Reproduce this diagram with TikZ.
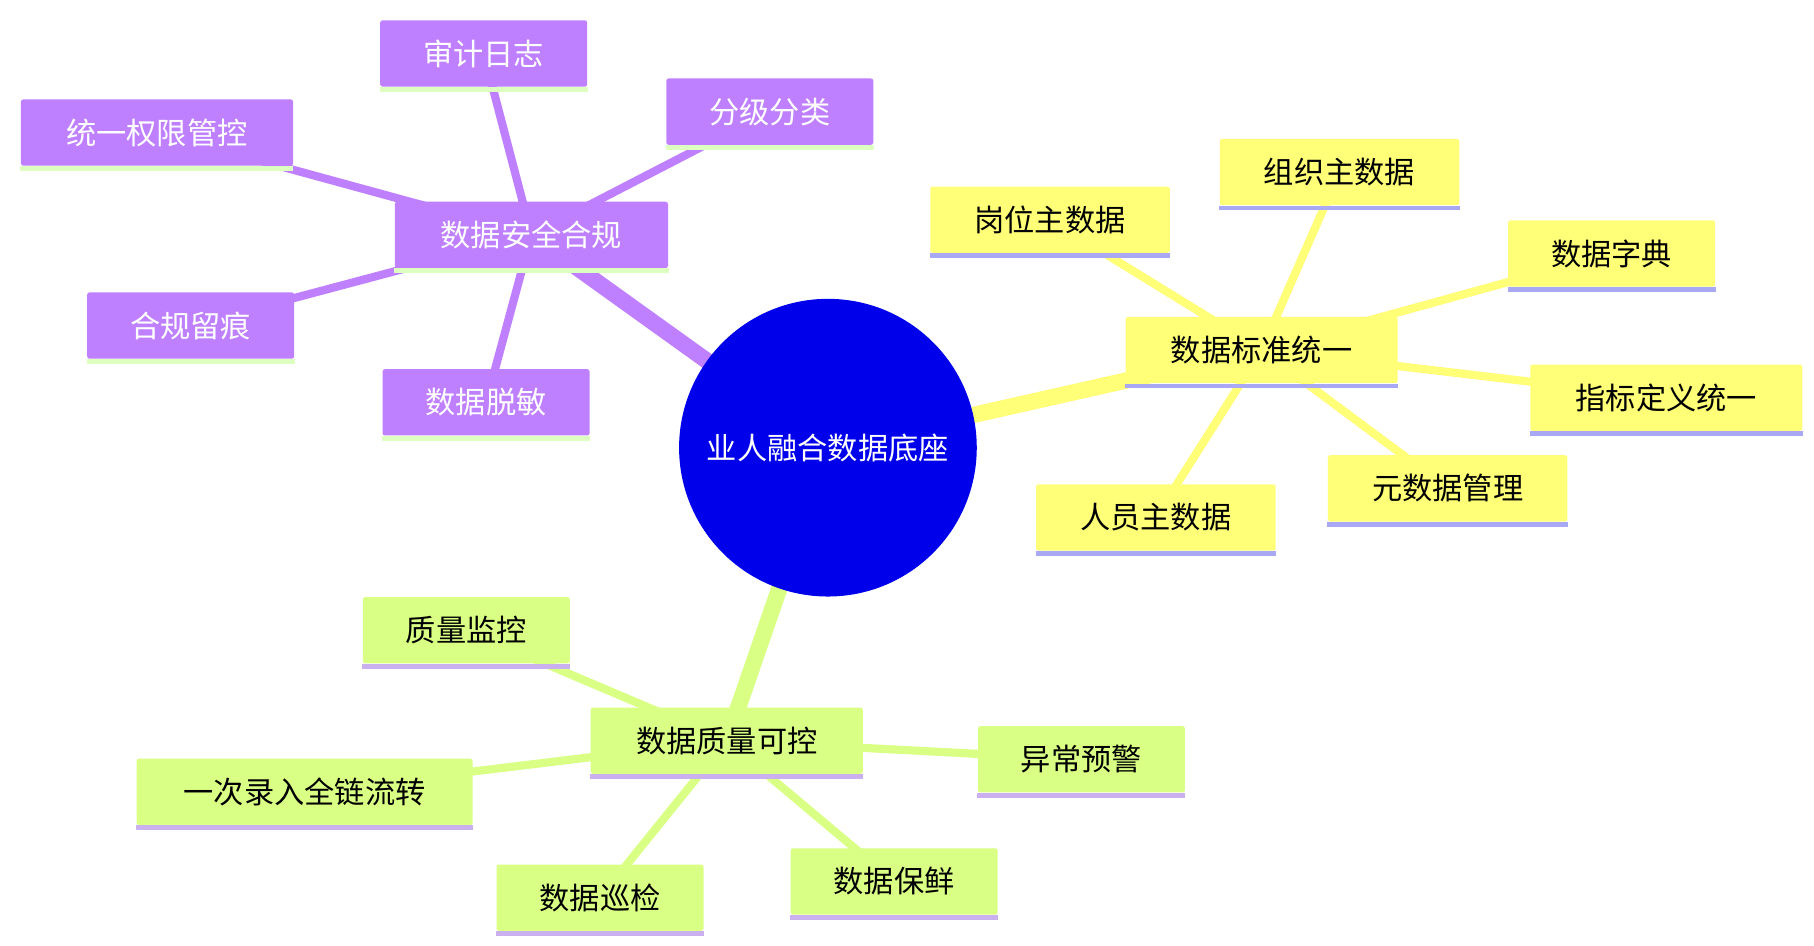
\documentclass[tikz,border=0pt]{standalone}
\usepackage{fontspec}
\setmainfont{Noto Sans CJK SC}
\definecolor{pur}{HTML}{BF80FF}
\definecolor{yel}{HTML}{FFFF78}
\definecolor{grn}{HTML}{D9FF85}
\definecolor{pline}{HTML}{DDFFC0}
\definecolor{yline}{HTML}{A8A8F5}
\definecolor{gline}{HTML}{CBB0F0}
\definecolor{cblue}{HTML}{0000EA}
\tikzset{
 box/.style={minimum height=28.5pt,inner sep=0pt,font=\fontsize{13}{13}\selectfont},
 pbox/.style={box,fill=pur,text=white,rounded corners=1pt},
 ybox/.style={box,fill=yel,text=black,rounded corners=1pt},
 gbox/.style={box,fill=grn,text=black,rounded corners=1pt},
 thick1/.style={line width=7pt},
 thin1/.style={line width=3.5pt},
}
\begin{document}
\begin{tikzpicture}[x=0.5pt,y=-0.5pt]
\useasboundingbox[fill=white] (0,0) rectangle (1560,813);
% coordinates
\coordinate (c) at (712,385);
\coordinate (P) at (457,202);\coordinate (p1) at (416,46);\coordinate (p2) at (662,96);
\coordinate (p3) at (135,114);\coordinate (p4) at (164,280);\coordinate (p5) at (418,346);
\coordinate (Y) at (1085,301);\coordinate (y1) at (903,189);\coordinate (y2) at (1152,148);
\coordinate (y3) at (1386,218);\coordinate (y4) at (1433,342);\coordinate (y5) at (1245,420);\coordinate (y6) at (994,445);
\coordinate (G) at (625,637);\coordinate (g1) at (401,542);\coordinate (g2) at (262,681);
\coordinate (g3) at (930,653);\coordinate (g4) at (769,758);\coordinate (g5) at (516,772);
% edges
\foreach \a in {p1,p2,p3,p4,p5} \draw[pur,thin1] (P)--(\a);
\foreach \a in {y1,y2,y3,y4,y5,y6} \draw[yel,thin1] (Y)--(\a);
\foreach \a in {g1,g2,g3,g4,g5} \draw[grn,thin1] (G)--(\a);
\draw[pur,thick1] (c)--(P);
\draw[yel,thick1] (c)--(Y);
\draw[grn,thick1] (c)--(G);
% nodes
\node[circle,fill=cblue,text=white,minimum size=128pt,inner sep=0pt,font=\fontsize{13}{13}\selectfont] (center) at (c) {业人融合数据底座};
\newcommand\bx[6]{% style, name, pos, width, text, linecolor
 \node[#1,minimum width=#4*0.5pt] (#2) at (#3) {#5};
 \draw[#6,line width=2pt] ([yshift=-1pt]#2.south west)--([yshift=-1pt]#2.south east);}
\bx{pbox}{nP}{P}{235}{数据安全合规}{pline}
\bx{pbox}{np1}{p1}{178}{审计日志}{pline}
\bx{pbox}{np2}{p2}{178}{分级分类}{pline}
\bx{pbox}{np3}{p3}{234}{统一权限管控}{pline}
\bx{pbox}{np4}{p4}{178}{合规留痕}{pline}
\bx{pbox}{np5}{p5}{178}{数据脱敏}{pline}
\bx{ybox}{nY}{Y}{234}{数据标准统一}{yline}
\bx{ybox}{ny1}{y1}{206}{岗位主数据}{yline}
\bx{ybox}{ny2}{y2}{206}{组织主数据}{yline}
\bx{ybox}{ny3}{y3}{178}{数据字典}{yline}
\bx{ybox}{ny4}{y4}{234}{指标定义统一}{yline}
\bx{ybox}{ny5}{y5}{206}{元数据管理}{yline}
\bx{ybox}{ny6}{y6}{206}{人员主数据}{yline}
\bx{gbox}{nG}{G}{234}{数据质量可控}{gline}
\bx{gbox}{ng1}{g1}{178}{质量监控}{gline}
\bx{gbox}{ng2}{g2}{289}{一次录入全链流转}{gline}
\bx{gbox}{ng3}{g3}{178}{异常预警}{gline}
\bx{gbox}{ng4}{g4}{178}{数据保鲜}{gline}
\bx{gbox}{ng5}{g5}{178}{数据巡检}{gline}
\end{tikzpicture}
\end{document}
